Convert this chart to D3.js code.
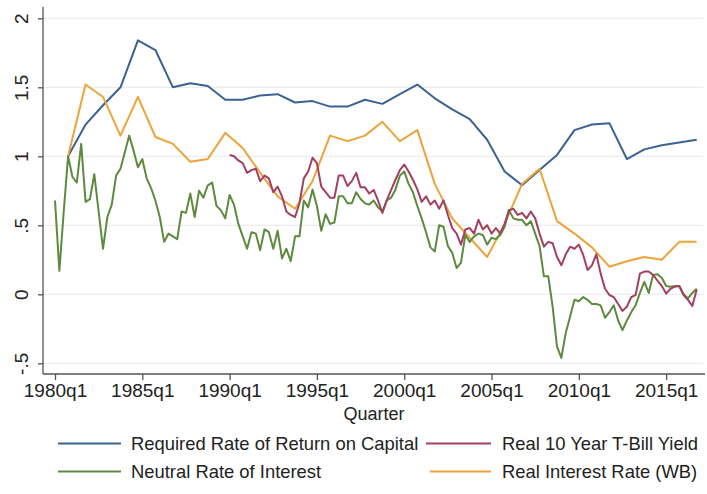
<!DOCTYPE html>
<html>
<head>
<meta charset="utf-8">
<script src="https://cdn.jsdelivr.net/npm/d3@7"></script>
<style>
  body { margin: 0; background: #fff; }
  svg { display: block; font-family: "Liberation Sans", Arial, sans-serif; }
</style>
</head>
<body>
<div id="chart"></div>
<script>
// annual series, plotted at q4 of each year
const years = d3.range(1980, 2017);
const requiredReturn = [1.00, 1.23, 1.37, 1.50, 1.84, 1.77, 1.50, 1.53, 1.51, 1.41,
  1.41, 1.44, 1.45, 1.39, 1.40, 1.36, 1.36, 1.41, 1.38, 1.45,
  1.52, 1.42, 1.34, 1.27, 1.12, 0.89, 0.79, 0.90, 1.01, 1.19,
  1.23, 1.24, 0.98, 1.05, 1.08, 1.10, 1.12];
const realRateWB = [1.00, 1.52, 1.43, 1.15, 1.43, 1.14, 1.09, 0.96, 0.98, 1.17,
  1.06, 0.88, 0.71, 0.62, 0.82, 1.15, 1.11, 1.15, 1.25, 1.11,
  1.19, 0.80, 0.55, 0.41, 0.27, 0.51, 0.80, 0.91, 0.53, 0.44,
  0.34, 0.20, 0.24, 0.27, 0.25, 0.38, 0.38];

// quarterly, 1980q1 - 2016q4
const neutralRate = [0.68, 0.17, 0.60, 1.00, 0.85, 0.81, 1.09, 0.67, 0.69, 0.87,
  0.60, 0.33, 0.56, 0.65, 0.86, 0.91, 1.03, 1.15, 1.04, 0.92,
  0.98, 0.84, 0.77, 0.68, 0.56, 0.38, 0.44, 0.42, 0.40, 0.60,
  0.59, 0.73, 0.56, 0.75, 0.70, 0.79, 0.81, 0.64, 0.61, 0.55,
  0.72, 0.65, 0.51, 0.42, 0.33, 0.45, 0.44, 0.32, 0.47, 0.45,
  0.33, 0.46, 0.26, 0.33, 0.24, 0.42, 0.42, 0.68, 0.63, 0.76,
  0.64, 0.46, 0.58, 0.51, 0.52, 0.71, 0.71, 0.66, 0.66, 0.74,
  0.69, 0.66, 0.65, 0.68, 0.63, 0.60, 0.68, 0.70, 0.76, 0.86,
  0.89, 0.80, 0.74, 0.64, 0.55, 0.45, 0.34, 0.31, 0.50, 0.49,
  0.35, 0.30, 0.19, 0.23, 0.43, 0.38, 0.42, 0.44, 0.43, 0.36,
  0.41, 0.40, 0.43, 0.49, 0.61, 0.55, 0.54, 0.54, 0.50, 0.53,
  0.44, 0.35, 0.13, 0.13, -0.09, -0.38, -0.46, -0.28, -0.16, -0.04,
  -0.05, -0.02, -0.04, -0.07, -0.07, -0.08, -0.17, -0.13, -0.08, -0.19,
  -0.26, -0.19, -0.13, -0.08, 0.01, 0.09, 0.01, 0.14, 0.145, 0.12,
  0.06, 0.055, 0.06, 0.06, 0.00, -0.03, 0.01, 0.04];

// quarterly, 1990q1 - 2016q4
const tbillYield = [1.01, 1.00, 0.97, 0.95, 0.88, 0.90, 0.91, 0.82, 0.86, 0.84,
  0.74, 0.78, 0.71, 0.60, 0.575, 0.56, 0.66, 0.84, 0.89, 0.99,
  0.95, 0.78, 0.74, 0.70, 0.70, 0.86, 0.86, 0.785, 0.82, 0.88,
  0.775, 0.775, 0.73, 0.756, 0.68, 0.59, 0.68, 0.756, 0.83, 0.90,
  0.94, 0.89, 0.83, 0.76, 0.67, 0.71, 0.65, 0.68, 0.62, 0.68,
  0.575, 0.48, 0.44, 0.36, 0.47, 0.48, 0.44, 0.54, 0.47, 0.50,
  0.44, 0.48, 0.44, 0.51, 0.61, 0.62, 0.575, 0.59, 0.55, 0.60,
  0.55, 0.44, 0.345, 0.38, 0.37, 0.27, 0.21, 0.29, 0.345, 0.33,
  0.36, 0.285, 0.176, 0.21, 0.29, 0.15, 0.04, -0.005, -0.02, -0.07,
  -0.12, -0.09, -0.02, -0.005, 0.15, 0.165, 0.165, 0.14, 0.10, 0.06,
  0.005, 0.04, 0.055, 0.06, -0.005, -0.04, -0.085, 0.035];

const xTickLabels = ["1980q1", "1985q1", "1990q1", "1995q1", "2000q1", "2005q1", "2010q1", "2015q1"];
const yTicks = [-0.5, 0, 0.5, 1, 1.5, 2];
const seriesNames = ["Required Rate of Return on Capital", "Real 10 Year T-Bill Yield",
  "Neutral Rate of Interest", "Real Interest Rate (WB)"];
const colors = ["#3b6291", "#a3405d", "#5d8a3e", "#eda33a"];

const width = 707, height = 494;

// x is in quarters since 1980q1
const x = d3.scaleLinear().domain([0, 147]).range([55, 696.7]);
const y = d3.scaleLinear().domain([-0.5, 2]).range([363.3, 18.3]);

const svg = d3.select("#chart").append("svg")
  .attr("width", width)
  .attr("height", height);

svg.append("rect").attr("width", width).attr("height", height).attr("fill", "#fff");

// grid
svg.append("g").selectAll("line")
  .data(yTicks)
  .enter().append("line")
  .attr("x1", 43).attr("x2", 703)
  .attr("y1", d => y(d)).attr("y2", d => y(d))
  .attr("stroke", "#ececec")
  .attr("stroke-width", 1.2);

const fmtY = d => d === 0 ? "0" : String(d).replace("0.", ".");

const yAxis = svg.append("g")
  .attr("transform", "translate(43,0)")
  .call(d3.axisLeft(y).tickValues(yTicks).tickSize(5).tickFormat(fmtY));
yAxis.select(".domain").attr("d", "M0,7V374");
yAxis.selectAll("text")
  .attr("transform", "translate(-15,0) rotate(-90)")
  .attr("x", 0).attr("y", 0).attr("dy", 0)
  .attr("text-anchor", "middle")
  .style("font-size", "19px");

const xTicks = d3.range(0, 141, 20);
const xAxis = svg.append("g")
  .attr("transform", "translate(0,374)")
  .call(d3.axisBottom(x).tickValues(xTicks).tickSize(6).tickFormat((d, i) => xTickLabels[i]));
xAxis.select(".domain").attr("d", "M43,0H705");
xAxis.selectAll("text").attr("y", 10).attr("dy", "0.71em").style("font-size", "19px");

svg.selectAll(".domain, .tick line").attr("stroke", "#555").attr("stroke-width", 1.3);
svg.selectAll(".tick text").attr("fill", "#222");

svg.append("text")
  .attr("x", 374).attr("y", 420)
  .attr("text-anchor", "middle")
  .attr("fill", "#222")
  .style("font-size", "18px")
  .text("Quarter");

const line = d3.line().x(d => x(d[0])).y(d => y(d[1]));

const annual = vals => vals.map((v, i) => [(years[i] - 1980) * 4 + 3, v]);
const quarterly = (vals, start) => vals.map((v, i) => [start + i, v]);

const series = [
  { data: annual(requiredReturn), color: colors[0] },
  { data: annual(realRateWB), color: colors[3] },
  { data: quarterly(neutralRate, 0), color: colors[2] },
  { data: quarterly(tbillYield, 40), color: colors[1] }
];

svg.append("g").selectAll("path")
  .data(series)
  .enter().append("path")
  .attr("d", d => line(d.data))
  .attr("fill", "none")
  .attr("stroke", d => d.color)
  .attr("stroke-width", 2)
  .attr("stroke-linejoin", "round");

// legend, 2 columns
const legendItems = [
  { name: seriesNames[0], color: colors[0], x0: 58, x1: 121, tx: 131, y: 443.5 },
  { name: seriesNames[1], color: colors[1], x0: 426, x1: 491, tx: 502, y: 443.5 },
  { name: seriesNames[2], color: colors[2], x0: 58, x1: 121, tx: 131, y: 471.5 },
  { name: seriesNames[3], color: colors[3], x0: 430, x1: 491, tx: 502, y: 471.5 }
];
const lg = svg.append("g").selectAll("g")
  .data(legendItems)
  .enter().append("g");
lg.append("line")
  .attr("x1", d => d.x0).attr("x2", d => d.x1)
  .attr("y1", d => d.y).attr("y2", d => d.y)
  .attr("stroke", d => d.color)
  .attr("stroke-width", 2);
lg.append("text")
  .attr("x", d => d.tx).attr("y", d => d.y)
  .attr("dy", "0.35em")
  .attr("fill", "#222")
  .style("font-size", "18.4px")
  .text(d => d.name);
</script>
</body>
</html>
